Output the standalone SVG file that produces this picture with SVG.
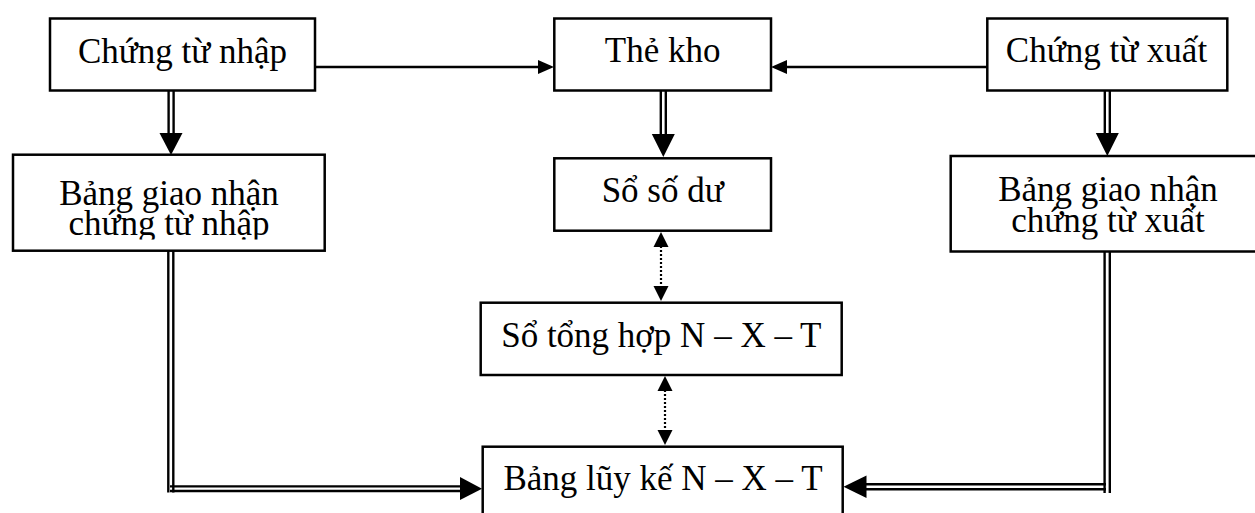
<svg xmlns="http://www.w3.org/2000/svg" width="1255" height="513" viewBox="0 0 1255 513">
  <style>
    .box { fill: #fff; stroke: #000; stroke-width: 2.5; }
    .lbl { font-family: "Liberation Serif", "Times New Roman", serif; font-size: 35px; fill: #000; text-anchor: middle; }
    .ln { stroke: #000; stroke-width: 2.5; fill: none; }
    .dbl { stroke: #000; stroke-width: 2.4; fill: none; }
    .dot { stroke: #000; stroke-width: 2.2; stroke-dasharray: 2 2; fill: none; }
    .head { fill: #000; }
  </style>
  <defs>
    <clipPath id="clipIn"><rect x="13" y="150" width="312" height="89.5"/></clipPath>
    <clipPath id="clipOut"><rect x="950" y="150" width="320" height="89.5"/></clipPath>
  </defs>

  <!-- connectors -->
  <g id="connectors">
    <!-- single arrows into Thẻ kho -->
    <line class="ln" x1="315" y1="67" x2="540" y2="67"/>
    <polygon class="head" points="554,67 538,60 538,74"/>
    <line class="ln" x1="987" y1="67" x2="786" y2="67"/>
    <polygon class="head" points="771,67 787,60 787,74"/>

    <!-- double arrows from the top row -->
    <line class="dbl" x1="168.6" y1="91" x2="168.6" y2="134"/>
    <line class="dbl" x1="173.6" y1="91" x2="173.6" y2="134"/>
    <polygon class="head" points="159.5,133 182.5,133 171,155"/>

    <line class="dbl" x1="660.8" y1="91" x2="660.8" y2="134"/>
    <line class="dbl" x1="665.8" y1="91" x2="665.8" y2="134"/>
    <polygon class="head" points="651.8,134 674.8,134 663.3,157"/>

    <line class="dbl" x1="1104.8" y1="91" x2="1104.8" y2="134"/>
    <line class="dbl" x1="1109.8" y1="91" x2="1109.8" y2="134"/>
    <polygon class="head" points="1095.8,133 1118.8,133 1107.3,156"/>

    <!-- dotted two-way arrows in the centre column -->
    <line class="dot" x1="661" y1="246" x2="661" y2="286"/>
    <polygon class="head" points="661,232 653.5,247 668.5,247"/>
    <polygon class="head" points="661,301 653.5,286 668.5,286"/>

    <line class="dot" x1="665" y1="390" x2="665" y2="430"/>
    <polygon class="head" points="665,376 657.5,391 672.5,391"/>
    <polygon class="head" points="665,445 657.5,430 672.5,430"/>

    <!-- double L-connector from the left -->
    <line class="dbl" x1="168.3" y1="251" x2="168.3" y2="492.5"/>
    <line class="dbl" x1="173.3" y1="251" x2="173.3" y2="492.5"/>
    <line class="dbl" x1="170" y1="486.4" x2="462" y2="486.4"/>
    <line class="dbl" x1="170" y1="491" x2="462" y2="491"/>
    <polygon class="head" points="482,488.7 460,477 460,500"/>

    <!-- double L-connector from the right -->
    <line class="dbl" x1="1104.6" y1="252" x2="1104.6" y2="493"/>
    <line class="dbl" x1="1109.8" y1="252" x2="1109.8" y2="493"/>
    <line class="dbl" x1="865" y1="484.3" x2="1106" y2="484.3"/>
    <line class="dbl" x1="865" y1="489.3" x2="1106" y2="489.3"/>
    <polygon class="head" points="843.5,486.8 866.5,475.5 866.5,498"/>
  </g>

  <!-- nodes -->
  <g id="chung-tu-nhap">
    <rect class="box" x="50" y="18.5" width="265" height="72"/>
    <text class="lbl" x="182.5" y="63">Chứng từ nhập</text>
  </g>

  <g id="the-kho">
    <rect class="box" x="554.3" y="18.5" width="216.7" height="72"/>
    <text class="lbl" x="662.7" y="62">Thẻ kho</text>
  </g>

  <g id="chung-tu-xuat">
    <rect class="box" x="987.3" y="18.5" width="240" height="72"/>
    <text class="lbl" x="1106.5" y="62">Chứng từ xuất</text>
  </g>

  <g id="bang-giao-nhan-nhap">
    <rect class="box" x="13" y="154.7" width="311.7" height="96"/>
    <g clip-path="url(#clipIn)">
      <text class="lbl" x="169" y="205">Bảng giao nhận</text>
      <text class="lbl" x="169" y="235">chứng từ nhập</text>
    </g>
  </g>

  <g id="so-so-du">
    <rect class="box" x="554.3" y="158.3" width="216.7" height="72.4"/>
    <text class="lbl" x="662.7" y="202">Sổ số dư</text>
  </g>

  <g id="bang-giao-nhan-xuat">
    <rect class="box" x="950.7" y="156" width="316" height="95.5"/>
    <g clip-path="url(#clipOut)">
      <text class="lbl" x="1108" y="201">Bảng giao nhận</text>
      <text class="lbl" x="1108" y="232">chứng từ xuất</text>
    </g>
  </g>

  <g id="so-tong-hop">
    <rect class="box" x="480.7" y="302.7" width="361" height="72.3"/>
    <text class="lbl" x="661.3" y="347">Sổ tổng hợp N – X – T</text>
  </g>

  <g id="bang-luy-ke">
    <rect class="box" x="482.7" y="446.7" width="360" height="80"/>
    <text class="lbl" x="663" y="490">Bảng lũy kế N – X – T</text>
  </g>
</svg>
